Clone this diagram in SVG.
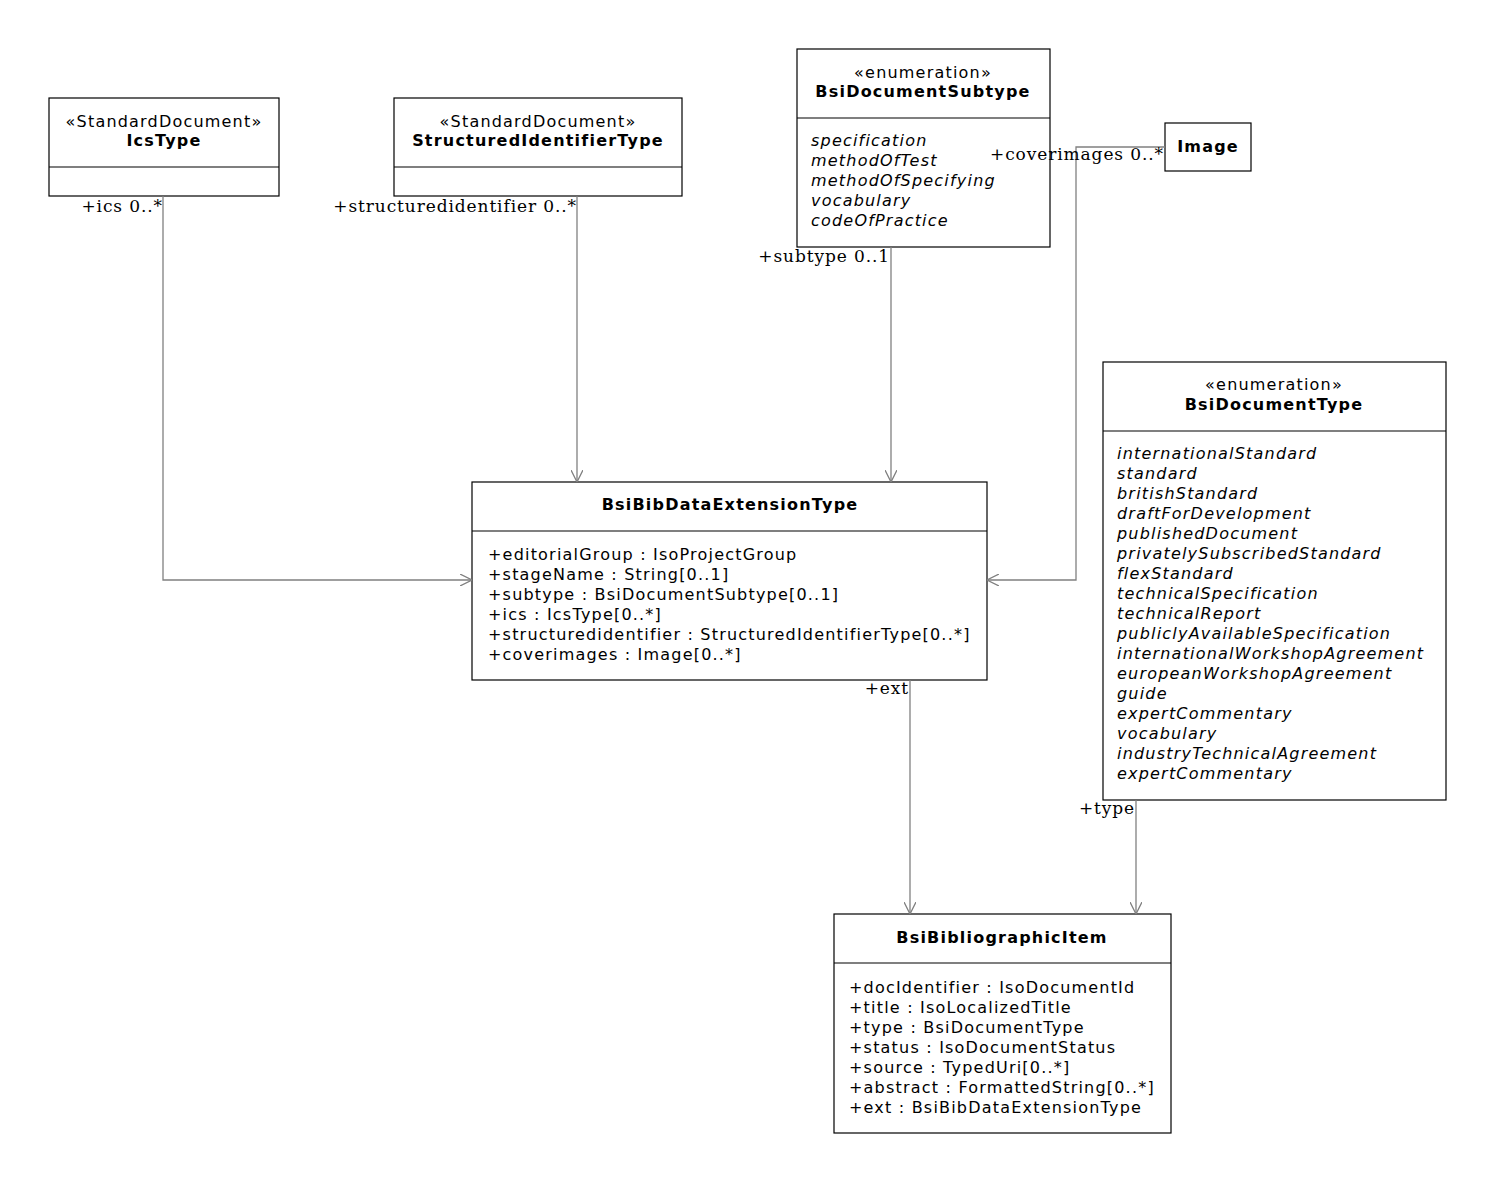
<svg xmlns="http://www.w3.org/2000/svg" width="1493" height="1181" viewBox="0 0 1493 1181">
<style>
.box{fill:#fff;stroke:#000;stroke-width:1.2}
.t{font-family:"DejaVu Sans",sans-serif;font-size:16px;letter-spacing:1.2px;fill:#000}
.b{font-weight:bold}
.i{font-style:italic}
.c{text-anchor:middle}
.e{stroke:#808080;stroke-width:1.3;fill:none;marker-end:url(#a)}
.l{font-family:"DejaVu Serif",serif;font-size:17px;letter-spacing:0.9px;text-anchor:end;fill:#000}
</style>
<defs><marker id="a" viewBox="0 0 12 12" refX="12" refY="6" markerWidth="12" markerHeight="12" markerUnits="userSpaceOnUse" orient="auto"><path d="M0,0 L12,6 L0,12" fill="none" stroke="#808080" stroke-width="1.3"/></marker></defs>
<rect width="1493" height="1181" fill="#fff"/>
<g id="IcsType"><rect class="box" x="49" y="98" width="230" height="98"/><line class="box" x1="49" y1="167" x2="279" y2="167"/>
<text class="t c" x="164" y="127">«StandardDocument»</text><text class="t c b" x="164" y="146">IcsType</text></g>
<g id="StructuredIdentifierType"><rect class="box" x="394" y="98" width="288" height="98"/><line class="box" x1="394" y1="167" x2="682" y2="167"/>
<text class="t c" x="538" y="127">«StandardDocument»</text><text class="t c b" x="538" y="146">StructuredIdentifierType</text></g>
<g id="BsiDocumentSubtype"><rect class="box" x="797" y="49" width="253" height="198"/><line class="box" x1="797" y1="118" x2="1050" y2="118"/>
<text class="t c" x="923" y="78">«enumeration»</text><text class="t c b" x="923" y="97">BsiDocumentSubtype</text>
<text class="t i" x="811" y="146">specification</text><text class="t i" x="811" y="166">methodOfTest</text><text class="t i" x="811" y="186">methodOfSpecifying</text><text class="t i" x="811" y="206">vocabulary</text><text class="t i" x="811" y="226">codeOfPractice</text></g>
<g id="Image"><rect class="box" x="1165" y="123" width="86" height="48"/><text class="t c b" x="1208" y="152">Image</text></g>
<g id="BsiDocumentType"><rect class="box" x="1103" y="362" width="343" height="438"/><line class="box" x1="1103" y1="431" x2="1446" y2="431"/>
<text class="t c" x="1274" y="390">«enumeration»</text><text class="t c b" x="1274" y="410">BsiDocumentType</text>
<g class="t i">
<text x="1117" y="459">internationalStandard</text><text x="1117" y="479">standard</text><text x="1117" y="499">britishStandard</text><text x="1117" y="519">draftForDevelopment</text><text x="1117" y="539">publishedDocument</text><text x="1117" y="559">privatelySubscribedStandard</text><text x="1117" y="579">flexStandard</text><text x="1117" y="599">technicalSpecification</text><text x="1117" y="619">technicalReport</text><text x="1117" y="639">publiclyAvailableSpecification</text><text x="1117" y="659">internationalWorkshopAgreement</text><text x="1117" y="679">europeanWorkshopAgreement</text><text x="1117" y="699">guide</text><text x="1117" y="719">expertCommentary</text><text x="1117" y="739">vocabulary</text><text x="1117" y="759">industryTechnicalAgreement</text><text x="1117" y="779">expertCommentary</text></g></g>
<g id="BsiBibDataExtensionType"><rect class="box" x="472" y="482" width="515" height="198"/><line class="box" x1="472" y1="531" x2="987" y2="531"/>
<text class="t c b" x="730" y="510">BsiBibDataExtensionType</text>
<g class="t"><text x="488" y="560">+editorialGroup : IsoProjectGroup</text><text x="488" y="580">+stageName : String[0..1]</text><text x="488" y="600">+subtype : BsiDocumentSubtype[0..1]</text><text x="488" y="620">+ics : IcsType[0..*]</text><text x="488" y="640">+structuredidentifier : StructuredIdentifierType[0..*]</text><text x="488" y="660">+coverimages : Image[0..*]</text></g></g>
<g id="BsiBibliographicItem"><rect class="box" x="834" y="914" width="337" height="219"/><line class="box" x1="834" y1="963" x2="1171" y2="963"/>
<text class="t c b" x="1002" y="943">BsiBibliographicItem</text>
<g class="t"><text x="849" y="993">+docIdentifier : IsoDocumentId</text><text x="849" y="1013">+title : IsoLocalizedTitle</text><text x="849" y="1033">+type : BsiDocumentType</text><text x="849" y="1053">+status : IsoDocumentStatus</text><text x="849" y="1073">+source : TypedUri[0..*]</text><text x="849" y="1093">+abstract : FormattedString[0..*]</text><text x="849" y="1113">+ext : BsiBibDataExtensionType</text></g></g>
<g id="connectors">
<path class="e" d="M163,196 V580 H472"/>
<path class="e" d="M577,196 V482"/>
<path class="e" d="M891,247 V482"/>
<path class="e" d="M1165,147 H1076 V580 H987"/>
<path class="e" d="M910,680 V914"/>
<path class="e" d="M1136,800 V914"/>
<text class="l" x="163" y="212">+ics 0..*</text>
<text class="l" x="577" y="212">+structuredidentifier 0..*</text>
<text class="l" x="890" y="262">+subtype 0..1</text>
<text class="l" x="1164" y="160">+coverimages 0..*</text>
<text class="l" x="909" y="694">+ext</text>
<text class="l" x="1135" y="814">+type</text>
</g>
</svg>
